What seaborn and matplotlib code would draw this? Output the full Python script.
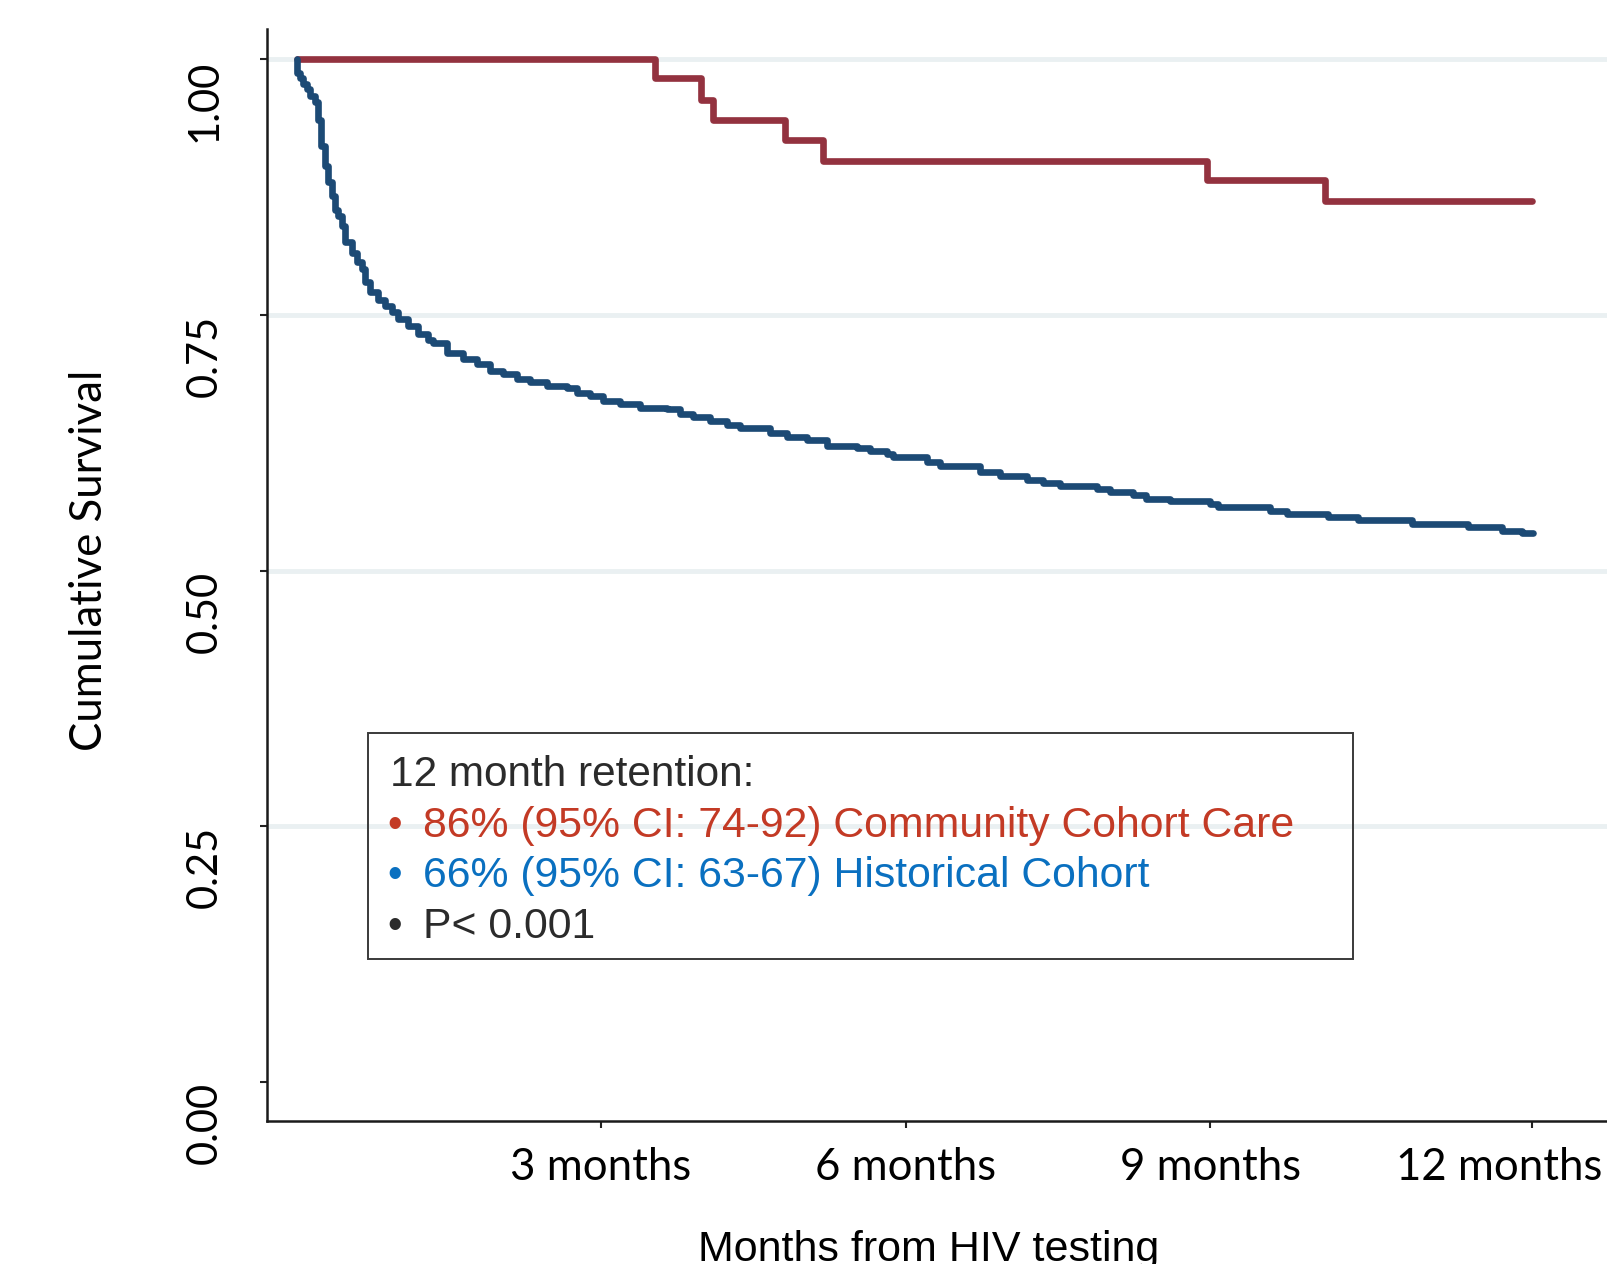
import numpy as np
import pandas as pd
import seaborn as sns
import matplotlib.pyplot as plt
import matplotlib.transforms as mtransforms
from matplotlib.patches import Rectangle

# Kaplan-Meier retention curves (days since HIV test)
community_days = [0, 106, 119.5, 123, 144.5, 155.5, 269, 304, 365]
community_surv = [1.0, 0.982, 0.960, 0.941, 0.921, 0.901, 0.882, 0.861, 0.861]

historical_days = [0, 0, 1.0, 2.0, 3.0, 4.0, 5.5, 6.4, 7.2, 8.4, 9.4, 10.4, 11.4, 12.4, 13.4,
                   14.3, 16.3, 17.8, 19.3, 20.2, 21.7, 24.2, 26.2, 28.1, 30.1, 33.0, 36.0,
                   38.9, 40.4, 44.4, 49.3, 53.3, 57.2, 61.1, 65.1, 69.0, 73.9, 79.8, 82.8,
                   86.7, 90.7, 95.6, 101.5, 109.4, 113.3, 117.3, 122.2, 127.1, 131.1, 139.9,
                   144.9, 150.8, 156.7, 165.5, 169.5, 174.4, 176.4, 186.2, 190.2, 202.0,
                   207.9, 215.8, 220.7, 225.6, 236.5, 240.4, 247.3, 251.2, 258.1, 270.0,
                   272.4, 287.7, 292.6, 304.9, 313.8, 329.6, 346.3, 356.2, 362.1, 365.3]
historical_surv = [1.0, 0.987, 0.982, 0.976, 0.971, 0.964, 0.958, 0.941, 0.915, 0.896, 0.880,
                   0.866, 0.853, 0.847, 0.837, 0.821, 0.811, 0.802, 0.795, 0.782, 0.772, 0.765,
                   0.759, 0.753, 0.746, 0.739, 0.731, 0.726, 0.723, 0.713, 0.707, 0.702, 0.695,
                   0.692, 0.687, 0.684, 0.681, 0.679, 0.674, 0.671, 0.666, 0.663, 0.659, 0.658,
                   0.653, 0.650, 0.646, 0.642, 0.639, 0.635, 0.631, 0.628, 0.622, 0.620, 0.617,
                   0.614, 0.611, 0.606, 0.602, 0.596, 0.593, 0.589, 0.586, 0.583, 0.580, 0.577,
                   0.574, 0.570, 0.568, 0.565, 0.562, 0.558, 0.555, 0.552, 0.549, 0.546, 0.543,
                   0.539, 0.537, 0.537]

x_ticks = [90, 180, 270, 365]
x_tick_labels = ['3 months', '6 months', '9 months', '12 months']
y_ticks = [0, 0.25, 0.5, 0.75, 1.0]
y_tick_labels = ['0.00', '0.25', '0.50', '0.75', '1.00']
grid_levels = [0.25, 0.5, 0.75, 1.0]

legend_title = '12 month retention:'
legend_items = ['86% (95% CI: 74-92) Community Cohort Care',
                '66% (95% CI: 63-67) Historical Cohort',
                'P< 0.001']
legend_colors = ['#c33a25', '#0a70c0', '#2b2b2b']

df = pd.concat([
    pd.DataFrame({'day': community_days, 'surv': community_surv, 'cohort': 'community'}),
    pd.DataFrame({'day': historical_days, 'surv': historical_surv, 'cohort': 'historical'}),
])

sns.set_style('white')
plt.rcParams['font.family'] = ['Lato', 'DejaVu Sans']

fig = plt.figure(figsize=(16.07, 12.64), dpi=100)
ax = fig.add_axes([0.166, 0.1134, 0.834, 0.8639])

for lv in grid_levels:
    ax.axhline(lv, color='#eaf0f2', lw=3.5, zorder=0)
n_grid = len(ax.lines)

sns.lineplot(data=df, x='day', y='surv', hue='cohort',
             palette={'community': '#93323f', 'historical': '#1c4a75'},
             estimator=None, sort=False, drawstyle='steps-post',
             legend=False, ax=ax)
for ln in ax.lines[n_grid:]:
    ln.set_linewidth(4.8)

ax.set_xlim(-8.8, 387.3)
ax.set_ylim(-0.038, 1.03)

ax.set_xticks(x_ticks)
ax.set_xticklabels(x_tick_labels, fontsize=31.5, color='black')
ax.set_yticks(y_ticks)
ax.set_yticklabels(y_tick_labels, fontsize=30, rotation=90, va='top', color='black')
ax.tick_params(axis='y', length=5, width=1.5, pad=26, left=True, color='#222222')
ax.tick_params(axis='x', length=5, width=1.5, pad=14, bottom=True, color='#222222')

# last month label sits a bit left of its tick in the original
last = ax.get_xticklabels()[-1]
last.set_transform(last.get_transform() + mtransforms.ScaledTranslation(-0.32, 0, fig.dpi_scale_trans))

for side in ['top', 'right']:
    ax.spines[side].set_visible(False)
for side in ['left', 'bottom']:
    ax.spines[side].set_color('#1a1a1a')
    ax.spines[side].set_linewidth(1.8)

ax.set_ylabel('Cumulative Survival', fontsize=31.5, color='black')
ax.yaxis.set_label_coords(-0.117, 0.513)
ax.set_xlabel('Months from HIV testing', fontsize=31, color='black', family='Liberation Sans')
ax.xaxis.set_label_coords(0.494, -0.1)
ax.xaxis.label.set_va('top')

# retention box
ax.add_patch(Rectangle((0.0756, 0.148), 0.735, 0.207, transform=ax.transAxes,
                       fill=False, edgecolor='#3a3a3a', lw=1.4, zorder=5))
line_y = [0.317, 0.27, 0.224, 0.177]
ax.text(0.0917, line_y[0], legend_title, transform=ax.transAxes, fontsize=30.5,
        family='Liberation Sans', color='#2b2b2b', va='center')
for yy, txt, col in zip(line_y[1:], legend_items, legend_colors):
    ax.text(0.0955, yy, '\u2022', transform=ax.transAxes, fontsize=30,
            family='Liberation Sans', color=col, va='center', ha='center')
    ax.text(0.1163, yy, txt, transform=ax.transAxes, fontsize=30.8,
            family='Liberation Sans', color=col, va='center')

fig.savefig('out.png', dpi=100)
